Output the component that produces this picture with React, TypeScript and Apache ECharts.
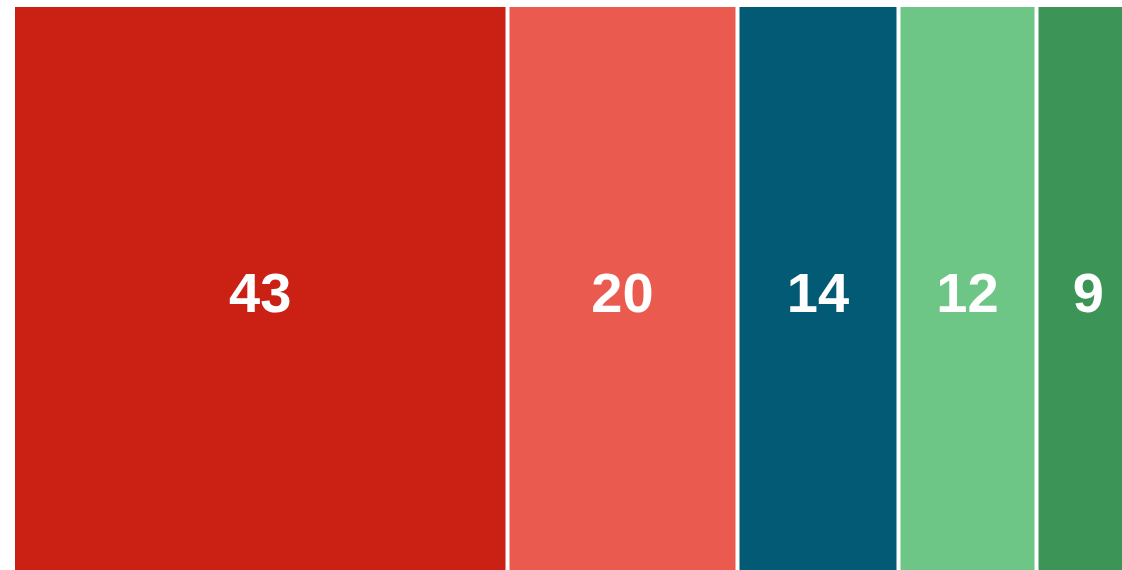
import React, { useEffect, useRef } from "react";
import * as echarts from "echarts";

const categories = ["A", "B", "C", "D", "E"];
const values = [43, 20, 14, 12, 9];
const colors = ["#CB2014", "#EB5A4F", "#035A75", "#6DC586", "#3C9556"];

export default function App() {
  const ref = useRef<HTMLDivElement>(null);
  useEffect(() => {
    if (!ref.current) return;
    const chart = echarts.init(ref.current, null, { renderer: "svg" });
    const total = values.reduce((a, b) => a + b, 0);
    chart.setOption({
      animation: false,
      backgroundColor: "#ffffff",
      grid: { left: 13, top: 5, width: 1127, height: 574, containLabel: false },
      xAxis: { type: "value", min: 0, max: total, show: false },
      yAxis: { type: "category", data: ["all"], show: false },
      series: categories.map((c, i) => ({
        name: c,
        type: "bar",
        stack: "total",
        barWidth: "100%",
        data: [values[i]],
        itemStyle: { color: colors[i], borderColor: "#ffffff", borderWidth: 2 },
        label: {
          show: true,
          position: "inside",
          color: "#ffffff",
          fontSize: 56,
          fontWeight: "bold",
          fontFamily: "'Liberation Sans', Arial, sans-serif",
        },
        emphasis: { disabled: true },
      })),
    });
    return () => chart.dispose();
  }, []);
  return (
    <div style={{ position: "absolute", left: 0, top: 0, width: 1122, height: 570, overflow: "hidden" }}>
      <div ref={ref} style={{ position: "absolute", left: 0, top: 0, width: 1160, height: 600 }} />
    </div>
  );
}
